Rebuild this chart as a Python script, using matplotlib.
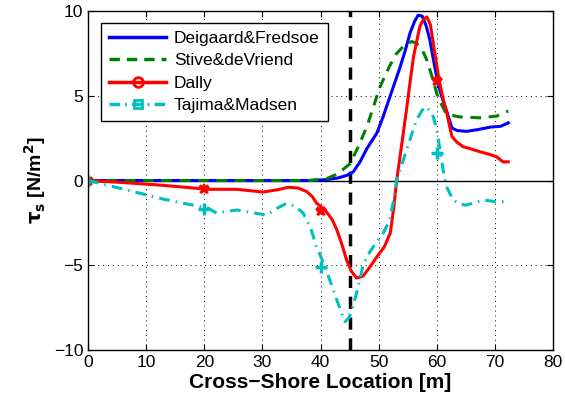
import numpy as np
import matplotlib.pyplot as plt
from matplotlib.lines import Line2D

plt.rcParams['font.family'] = ['Liberation Sans', 'DejaVu Sans']

# Deigaard&Fredsoe
x_df = [0, 10, 20, 30, 38, 41, 43, 44.5, 45.6, 46.8, 48, 49.7, 50.8, 51.6, 52.7, 53.7, 54.6, 55.4, 56.2, 56.8, 57.5, 58.2, 58.8, 59.5, 60.2, 61, 61.7, 62.6, 63.5, 65.1, 67, 69.2, 71, 72.3]
y_df = [0, 0, 0, 0, 0, 0.05, 0.15, 0.3, 0.5, 1.1, 1.9, 2.8, 3.8, 4.6, 5.7, 6.7, 7.7, 8.7, 9.4, 9.75, 9.7, 9.1, 8.3, 7.0, 5.7, 4.8, 4.1, 3.1, 2.95, 2.9, 3.0, 3.15, 3.2, 3.4]

# Stive&deVriend
x_sd = [0, 10, 20, 30, 38, 41, 43, 45.1, 46.5, 48, 50.2, 51.8, 53.1, 54.5, 55.7, 56.5, 57.5, 58.3, 59.3, 60.2, 61.7, 64, 67.4, 70.3, 72.3]
y_sd = [0, 0, 0, 0, 0, 0.1, 0.4, 1.0, 2.0, 3.2, 5.5, 6.7, 7.5, 8.0, 8.2, 8.1, 7.7, 7.1, 6.0, 4.9, 3.9, 3.75, 3.7, 3.8, 4.1]

# Dally
x_da = [0, 6, 12.4, 20.7, 25.6, 30.1, 32.5, 34.5, 36.2, 37.6, 38.6, 39.3, 40.8, 42, 42.8, 43.7, 44.5, 45.3, 46.2, 47.3, 48.5, 49.7, 51, 52, 52.6, 53.1, 54, 54.8, 55.4, 56, 56.6, 57.1, 57.7, 58.3, 58.9, 59.4, 60.4, 61.1, 61.7, 62.6, 63.5, 64.5, 66, 67.4, 69, 70.3, 71.4, 72.3]
y_da = [0, -0.12, -0.27, -0.52, -0.52, -0.68, -0.55, -0.4, -0.45, -0.65, -0.95, -1.33, -1.75, -2.3, -2.9, -3.8, -4.7, -5.35, -5.75, -5.65, -5.1, -4.5, -3.9, -3.1, -1.6, 0, 2.2, 4.2, 5.8, 7.3, 8.3, 9.1, 9.5, 9.65, 9.2, 8.1, 5.9, 4.8, 4.0, 2.6, 2.25, 2.0, 1.85, 1.7, 1.55, 1.4, 1.1, 1.1]
xm_da = [0, 20, 40, 60]
ym_da = [0, -0.5, -1.8, 5.9]

# Tajima&Madsen
x_tm = [0, 6.7, 13, 20.7, 22.1, 25.6, 30.7, 32.5, 34.1, 35.6, 37, 38.3, 39.3, 40.8, 42.8, 43.6, 44.2, 44.9, 45.5, 46.2, 47.4, 48.5, 49.7, 50.8, 51.9, 52.5, 53.1, 54.8, 56.5, 57.5, 58.3, 59.4, 60, 60.6, 61.2, 61.7, 62.8, 64, 65.1, 66.5, 68, 70.3, 72.3]
y_tm = [0, -0.56, -1.1, -1.64, -1.92, -1.74, -2.04, -1.65, -1.35, -1.5, -1.92, -2.8, -3.9, -5.1, -7.05, -7.8, -8.33, -8.1, -7.5, -6.65, -4.9, -4.2, -3.6, -3.1, -2.33, -1.3, 0, 1.8, 3.57, 4.15, 4.35, 3.76, 3.0, 1.7, 0.4, -0.37, -1.15, -1.4, -1.45, -1.3, -1.15, -1.25, -1.25]
xm_tm = [0, 20, 40, 60]
ym_tm = [0, -1.7, -5.1, 1.6]

cyan = (0, 0.75, 0.75)

fig = plt.figure(figsize=(5.65, 4.05), dpi=100)
ax = fig.add_axes([0.1558, 0.1358, 0.823, 0.837])

ax.axhline(0, color='k', lw=1)
ax.plot([45, 45], [-10, 10], color='k', lw=2.5, ls=(0, (3.5, 2.5)))

ax.plot(x_df, y_df, color='b', lw=2.2)
ax.plot(x_sd, y_sd, color=(0, 0.5, 0), lw=2.2, ls=(0, (3.5, 2.5)))
ax.plot(x_da, y_da, color='r', lw=2.2)
ax.plot(x_tm, y_tm, color=cyan, lw=2.2, ls=(0, (3.5, 2, 0.5, 2)))
ax.plot(xm_da, ym_da, ls='none', marker='*', color='r', ms=7, mew=1.5)
ax.plot(xm_da, ym_da, ls='none', marker='x', color='r', ms=6, mew=1.5)
ax.plot(xm_tm, ym_tm, ls='none', marker='+', color=cyan, ms=9, mew=2.5)

ax.set_xlim(0, 80)
ax.set_ylim(-10, 10)
ax.set_xticks(np.arange(0, 81, 10))
ax.set_yticks([-10, -5, 0, 5, 10])
ax.grid(True, color='k', ls=(0, (1, 4)), lw=0.7)
ax.tick_params(direction='in', top=True, right=True, labelsize=12.5, length=4)
for s in ax.spines.values():
    s.set_linewidth(1)

ax.set_xlabel('Cross\u2212Shore Location [m]', fontsize=15, fontweight='bold', labelpad=2)
ax.set_ylabel(r'$\mathbf{\tau_s}$ [N/m$^\mathbf{2}$]', fontsize=14, fontweight='bold', labelpad=4)

handles = [
    Line2D([], [], color='b', lw=2.5),
    Line2D([], [], color=(0, 0.5, 0), lw=2.5, ls=(0, (3, 2))),
    Line2D([], [], color='r', lw=2.5, marker='o', ms=7, mfc='none', mew=2),
    Line2D([], [], color=cyan, lw=2.5, ls=(0, (3, 1.5, 0.5, 1.5)), marker='s', ms=6, mfc='none', mew=2),
]
labels = ['Deigaard&Fredsoe', 'Stive&deVriend', 'Dally', 'Tajima&Madsen']
leg = ax.legend(handles, labels, loc='upper left', fontsize=12.5, fancybox=False,
                edgecolor='k', framealpha=1, handlelength=3.3, borderpad=0.45,
                labelspacing=0.42, handletextpad=0.45, borderaxespad=0,
                bbox_to_anchor=(0.028, 0.965))
leg.get_frame().set_linewidth(1)

fig.savefig('out.png', dpi=100)
